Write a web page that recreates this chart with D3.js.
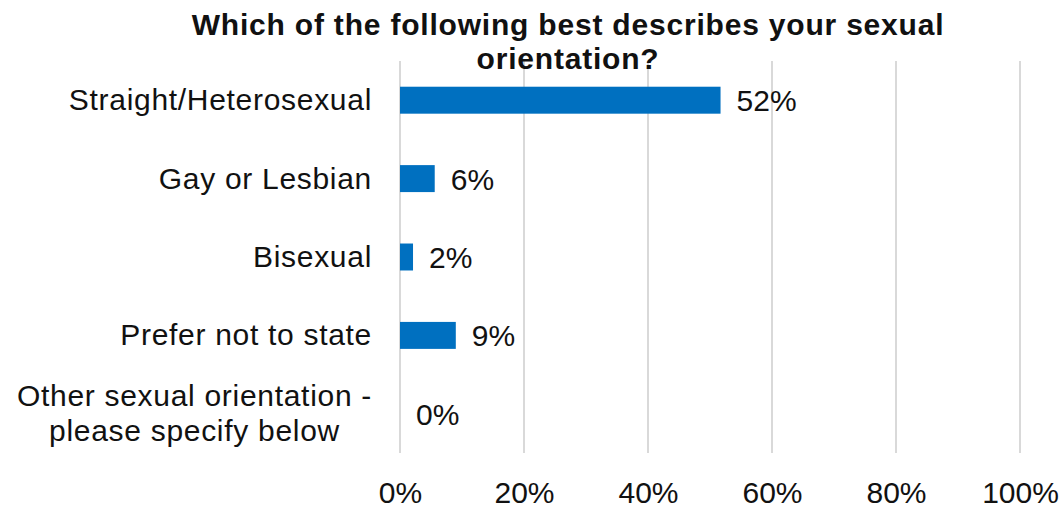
<!DOCTYPE html>
<html>
<head>
<meta charset="utf-8">
<script src="https://cdn.jsdelivr.net/npm/d3@7"></script>
<style>
  html, body { margin: 0; padding: 0; background: #fff; }
  svg { display: block; font-family: "Liberation Sans", Arial, sans-serif; }
</style>
</head>
<body>
<svg id="chart" width="1064" height="511"></svg>
<script>
const titleLines = ["Which of the following best describes your sexual", "orientation?"];
const categories = [
  "Straight/Heterosexual",
  "Gay or Lesbian",
  "Bisexual",
  "Prefer not to state",
  "Other sexual orientation -|please specify below"
];
const values = [0.517, 0.056, 0.021, 0.090, 0];
const tickValues = [0, 0.2, 0.4, 0.6, 0.8, 1.0];

const svg = d3.select("#chart");
const margin = { left: 400, right: 44, top: 61, bottom: 58 };
const W = 1064, H = 511;

const x = d3.scaleLinear().domain([0, 1]).range([margin.left, W - margin.right]);
const y = d3.scaleBand().domain(categories).range([margin.top, H - margin.bottom])
  .paddingInner(0.656).paddingOuter(0.328);
const pct = d3.format(".0%");

// gridlines
svg.append("g").selectAll("line").data(tickValues).join("line")
  .attr("x1", d => x(d)).attr("x2", d => x(d))
  .attr("y1", margin.top).attr("y2", H - margin.bottom)
  .attr("stroke", "#d9d9d9").attr("stroke-width", 2);

// x axis labels
const xAxis = d3.axisBottom(x).tickValues(tickValues).tickFormat(pct).tickSize(0).tickPadding(0);
const xg = svg.append("g").attr("transform", `translate(0,${H - margin.bottom})`).call(xAxis);
xg.select(".domain").remove();
xg.selectAll("text").attr("font-size", 30).attr("fill", "#111")
  .attr("font-family", "'Liberation Sans', Arial, sans-serif")
  .attr("dy", null).attr("y", 50);

// bars
svg.append("g").selectAll("rect").data(values).join("rect")
  .attr("x", x(0))
  .attr("y", (d, i) => y(categories[i]))
  .attr("width", d => x(d) - x(0))
  .attr("height", y.bandwidth())
  .attr("fill", "#0070c0");

// data labels
svg.append("g").selectAll("text").data(values).join("text")
  .attr("x", d => x(d) + 16)
  .attr("y", (d, i) => y(categories[i]) + y.bandwidth() / 2 + 11)
  .attr("font-size", 30).attr("fill", "#111")
  .text(d => pct(d));

// category labels
const catG = svg.append("g");
categories.forEach(c => {
  const lines = c.split("|");
  const cy = y(c) + y.bandwidth() / 2;
  const lh = 35;
  const t = catG.append("text").attr("font-size", 30).attr("fill", "#111")
    .attr("letter-spacing", 0.7);
  const tspans = lines.map((ln, i) => t.append("tspan")
    .attr("y", cy + 10 + (i - (lines.length - 1) / 2) * lh).text(ln));
  if (lines.length === 1) {
    t.attr("text-anchor", "end");
    tspans[0].attr("x", x(0) - 28);
  } else {
    const widths = tspans.map(s => s.node().getComputedTextLength());
    const bw = d3.max(widths);
    t.attr("text-anchor", "middle");
    tspans.forEach(s => s.attr("x", x(0) - 28 - bw / 2));
  }
});

// title
const tt = svg.append("text").attr("text-anchor", "middle").attr("font-size", 30)
  .attr("font-weight", "bold").attr("fill", "#111").attr("letter-spacing", 0.8);
titleLines.forEach((ln, i) => tt.append("tspan").attr("x", 568).attr("y", 35 + i * 34).text(ln));
</script>
</body>
</html>
